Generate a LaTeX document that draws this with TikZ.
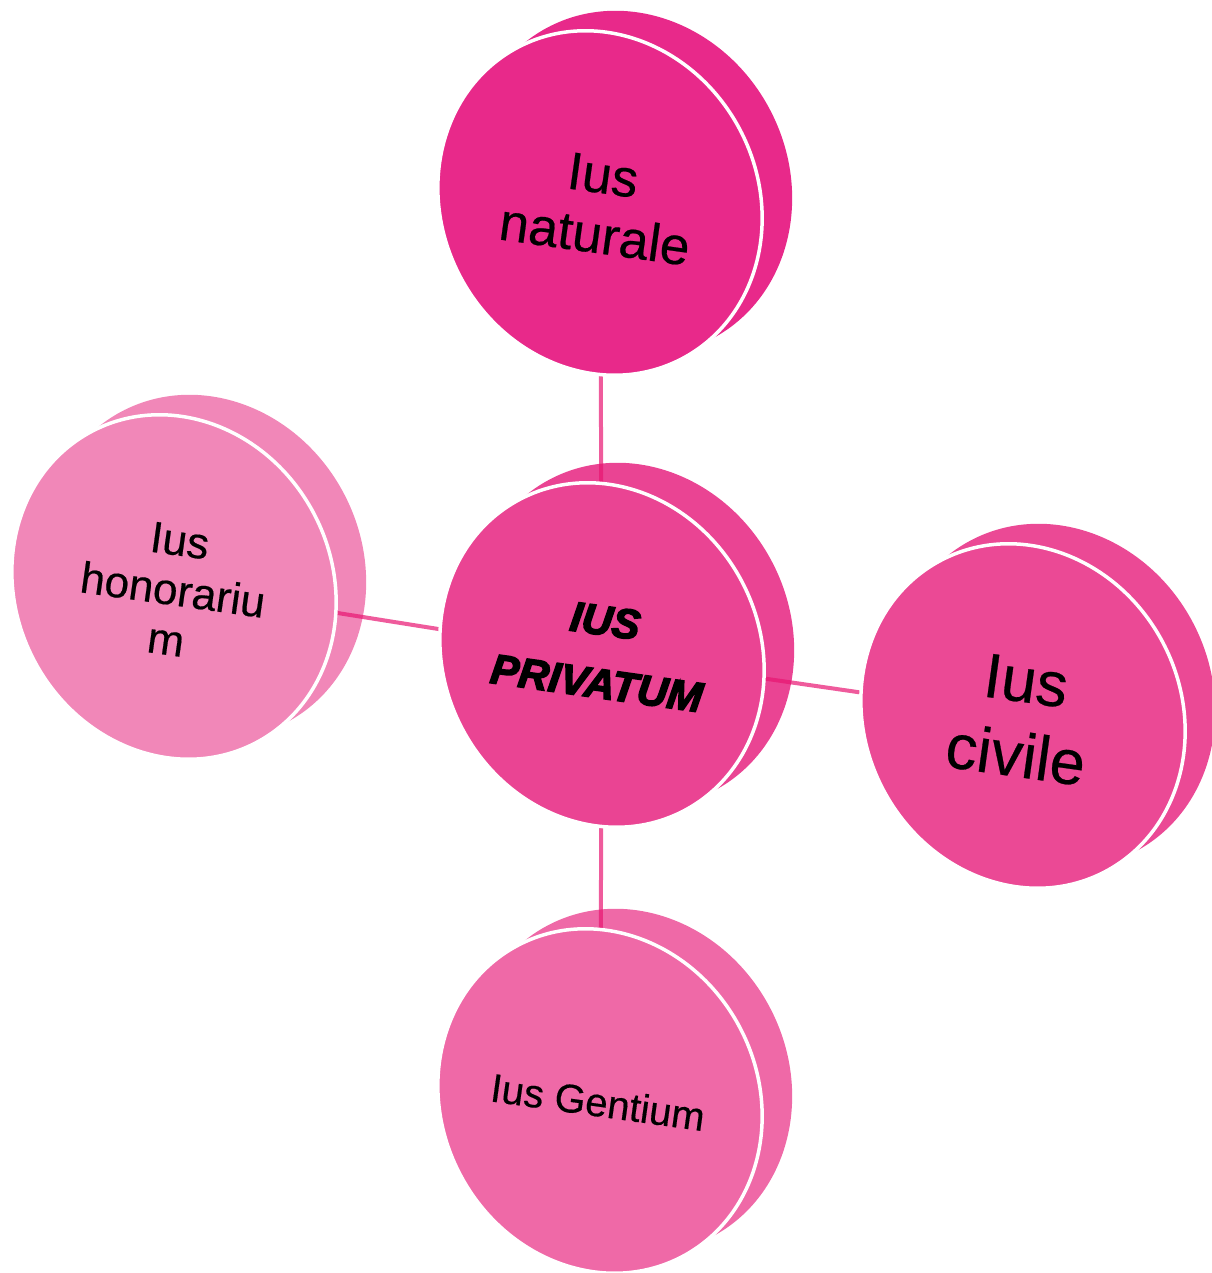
\documentclass[tikz,border=0pt]{standalone}
\usepackage{fontspec}
\setmainfont{Liberation Sans}[FakeBold=0.4]
\newfontfamily\topicfont{Liberation Sans Bold Italic}[FakeBold=3.5]
\usepackage{tikz}
\usetikzlibrary{calc}
\definecolor{naturale}{HTML}{E8298A}
\definecolor{privatum}{HTML}{EA4493}
\definecolor{civile}{HTML}{EB4995}
\definecolor{honorarium}{HTML}{F187B8}
\definecolor{gentium}{HTML}{EF69A7}
\definecolor{linkpink}{RGB}{232,22,114}
\tikzset{
    backface/.style={
                fill=#1
            },
    frontface/.style={
                fill=#1,
                draw=white,
                line width=3.5pt
            },
    connector/.style={
                draw=linkpink,
                opacity=0.7,
                line width=4pt
            },
    topic/.style={
                text centered,
                align=center,
                rotate=-8,
                font=\topicfont\fontsize{42}{63}\selectfont
            },
    subtopic/.style={
                text centered,
                align=center,
                rotate=-8
            },
}

\begin{document}
\begin{tikzpicture}[x=1pt,y=-1pt]
  \useasboundingbox (0,0) rectangle (1211,1273);
  % Centres
  \coordinate (priv) at (602,655);
  \coordinate (nat) at (600,203);
  \coordinate (civ) at (1023,716);
  \coordinate (hon) at (174,587);
  \coordinate (gen) at (600,1101);
  % Back faces
  \fill[backface=naturale] ($(nat)+(30,-20)$) circle [x radius=158, y radius=176, rotate=28];
  \fill[backface=privatum] ($(priv)+(30,-20)$) circle [x radius=158, y radius=176, rotate=28];
  \fill[backface=civile] ($(civ)+(30,-20)$) circle [x radius=158, y radius=176, rotate=28];
  \fill[backface=honorarium] ($(hon)+(30,-20)$) circle [x radius=158, y radius=176, rotate=28];
  \fill[backface=gentium] ($(gen)+(30,-20)$) circle [x radius=158, y radius=176, rotate=28];
  % Connectors
  \draw[connector] (priv) -- (nat);
  \draw[connector] (priv) -- (civ);
  \draw[connector] (priv) -- (hon);
  \draw[connector] (priv) -- (gen);
  % Front faces
  \filldraw[frontface=naturale] (nat) circle [x radius=158, y radius=176, rotate=28];
  \filldraw[frontface=privatum] (priv) circle [x radius=158, y radius=176, rotate=28];
  \filldraw[frontface=civile] (civ) circle [x radius=158, y radius=176, rotate=28];
  \filldraw[frontface=honorarium] (hon) circle [x radius=158, y radius=176, rotate=28];
  \filldraw[frontface=gentium] (gen) circle [x radius=158, y radius=176, rotate=28];
  % Topic
  \node[topic] (priv-text) at (601,652) {IUS\\PRIVATUM};
  % Subtopics
  \node[subtopic, font=\fontsize{53}{60}\selectfont] (nat-text) at (599,205) {Ius\\naturale};
  \node[subtopic, font=\fontsize{63}{75}\selectfont] (civ-text) at (1021,718) {Ius\\civile};
  \node[subtopic, font=\fontsize{44}{50}\selectfont] (hon-text) at (173,590) {Ius\\honorariu\\m};
  \node[subtopic, font=\fontsize{40}{48}\selectfont] (gen-text) at (598,1102) {Ius Gentium};
\end{tikzpicture}
\end{document}
